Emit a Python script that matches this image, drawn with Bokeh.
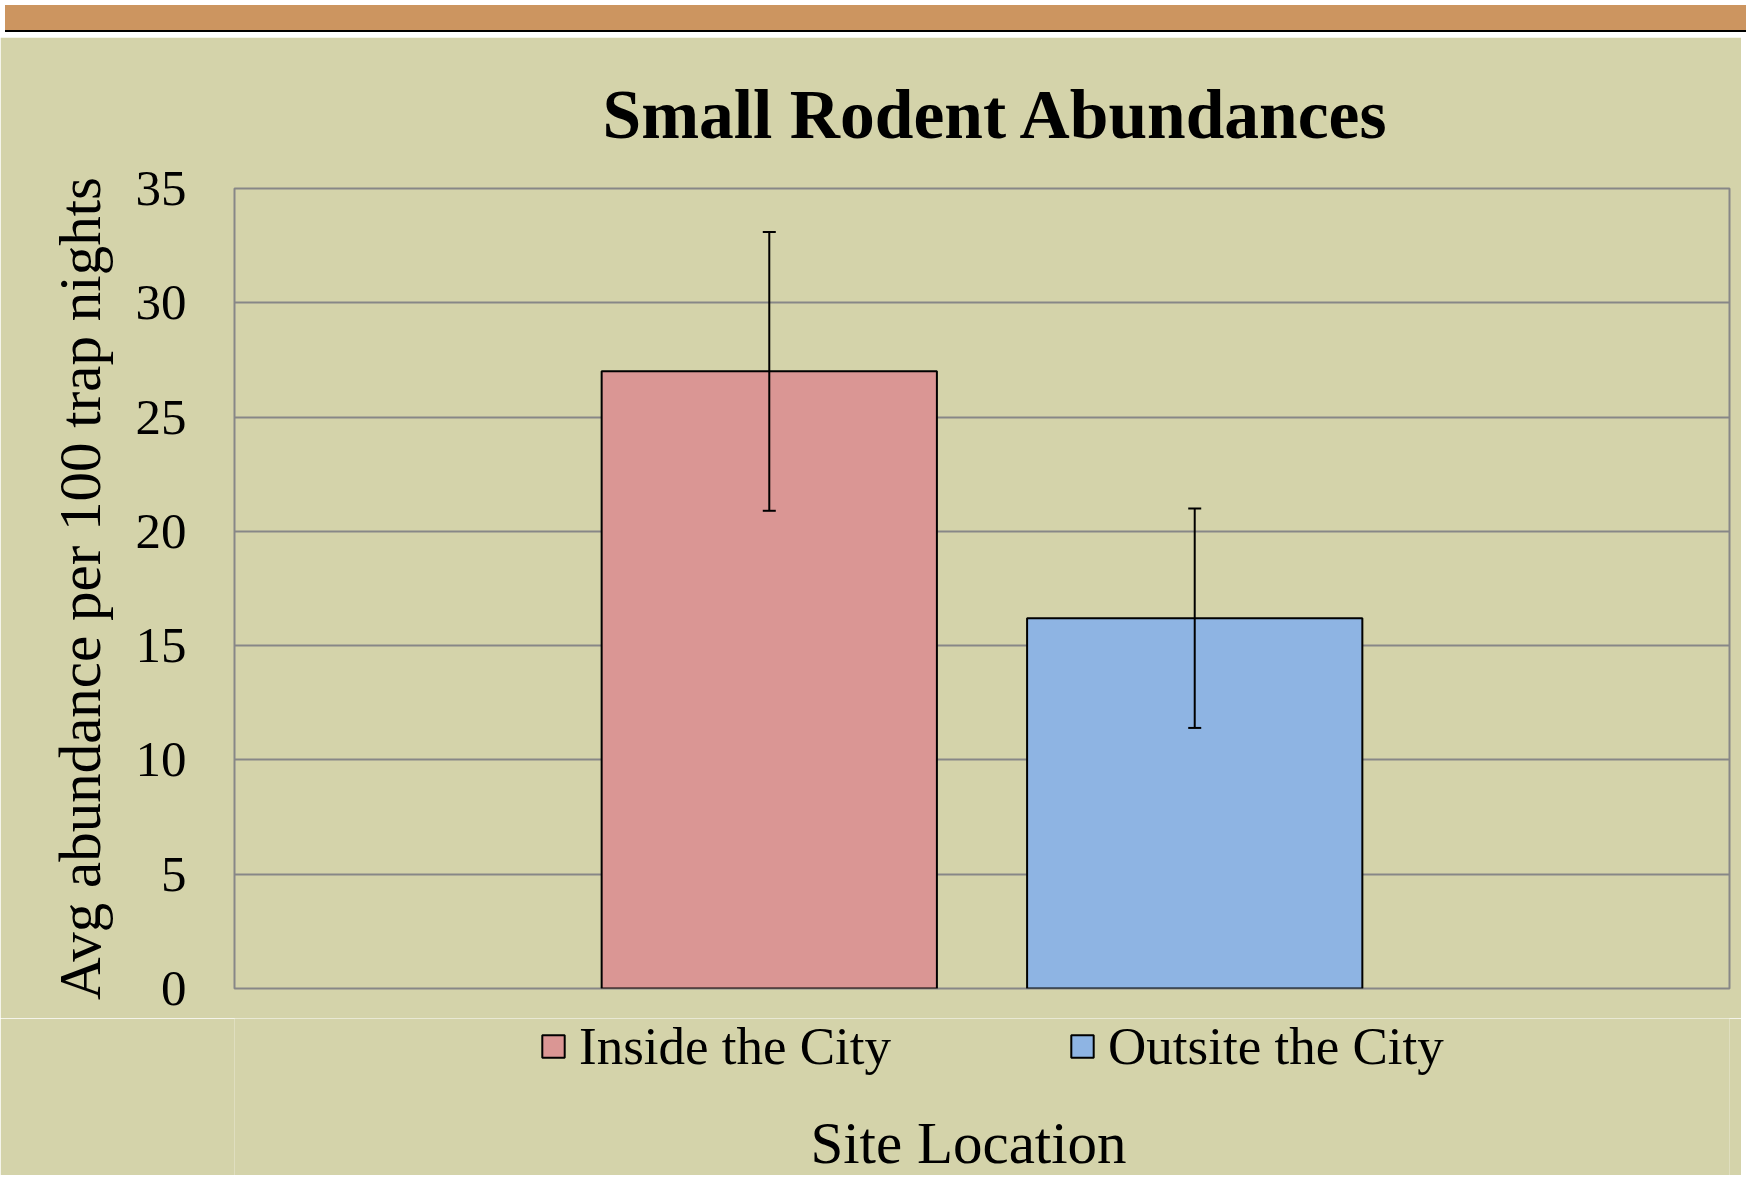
from bokeh.plotting import figure
from bokeh.models import (FactorRange, Range1d, SingleIntervalTicker, Legend, LegendItem,
                          Whisker, TeeHead, ColumnDataSource, Title, Div, Label)
from bokeh.layouts import column
from bokeh.embed import file_html
from bokeh.resources import INLINE

# ---- data ----
categories = ["Inside the City", "Outsite the City"]
abundance = [27.0, 16.2]
std_error = [6.1, 4.8]
bar_colors = ["#DA9694", "#8EB4E3"]
y_ticks_interval = 5
y_max = 35

BG = "#D4D3AA"
GRID = "#878787"
FONT = "Liberation Serif"

src = ColumnDataSource(dict(
    cat=categories,
    val=abundance,
    upper=[v + e for v, e in zip(abundance, std_error)],
    lower=[v - e for v, e in zip(abundance, std_error)],
    color=bar_colors,
))

band = Div(text="", width=1741, height=27,
           styles={"background-color": "#CC9560", "border-bottom": "2px solid #000000"})

# ---- main chart ----
p = figure(width=1741, height=981,
           x_range=FactorRange(factors=categories, range_padding=0.757, range_padding_units="percent"),
           y_range=Range1d(0, y_max),
           output_backend="svg", toolbar_location=None, x_axis_location=None,
           min_border_top=151, min_border_bottom=30, min_border_left=234, min_border_right=12)

p.background_fill_color = BG
p.border_fill_color = BG
p.outline_line_color = GRID
p.outline_line_width = 2

p.title = Title(text="Small Rodent Abundances", align="left", offset=368, standoff=71,
                text_font=FONT, text_font_size="69.5px", text_font_style="bold", text_color="black")

r = p.vbar(x="cat", top="val", width=0.788, source=src, fill_color="color",
           line_color="black", line_width=2)

w = Whisker(base="cat", upper="upper", lower="lower", source=src, line_color="black", line_width=2,
            level="overlay",
            upper_head=TeeHead(size=13, line_color="black", line_width=2),
            lower_head=TeeHead(size=13, line_color="black", line_width=2))
p.add_layout(w)

yax = p.yaxis[0]
yax.ticker = SingleIntervalTicker(interval=y_ticks_interval)
yax.axis_line_color = None
yax.major_tick_line_color = None
yax.minor_tick_line_color = None
yax.major_label_standoff = 42
yax.major_label_text_font = FONT
yax.major_label_text_font_size = "51px"
yax.major_label_text_color = "black"
yax.axis_label = "Avg abundance per 100 trap nights"
yax.axis_label_text_font = FONT
yax.axis_label_text_font_size = "59px"
yax.axis_label_text_font_style = "normal"
yax.axis_label_text_color = "black"
yax.axis_label_standoff = 20

p.xgrid.grid_line_color = None
p.ygrid.grid_line_color = GRID
p.ygrid.grid_line_width = 2
p.ygrid.ticker = SingleIntervalTicker(interval=y_ticks_interval)

# ---- legend strip + x-axis title (frame aligned with the chart above) ----
p2 = figure(width=1741, height=157,
            x_range=FactorRange(factors=categories), y_range=Range1d(0, y_max),
            output_backend="svg", toolbar_location=None,
            x_axis_location=None, y_axis_location=None, min_border=0)
p2.background_fill_color = BG
p2.border_fill_color = BG
p2.outline_line_color = None
p2.xgrid.grid_line_color = None
p2.ygrid.grid_line_color = None

# same bars as a hidden renderer -- they only supply the legend keys
key = p2.vbar(x="cat", top="val", width=0.788, source=src, fill_color="color",
              line_color="black", line_width=2, visible=False)
legend = Legend(items=[LegendItem(label=c, renderers=[key], index=i) for i, c in enumerate(categories)],
                orientation="horizontal", location=(305, 99),
                label_text_font=FONT, label_text_font_size="53px", label_text_color="black",
                glyph_width=28, glyph_height=28, label_standoff=12, spacing=177,
                margin=0, padding=0, background_fill_alpha=0, border_line_color=None,
                inactive_fill_alpha=0)
p2.add_layout(legend, "center")

p2.add_layout(Label(text="Site Location", x=734, y=33, x_units="screen", y_units="screen",
                    text_align="center", text_baseline="alphabetic",
                    text_font=FONT, text_font_size="59px", text_color="black"))

layout = column(band, p, p2, spacing=0)
open("out.html", "w").write(file_html(layout, INLINE))
